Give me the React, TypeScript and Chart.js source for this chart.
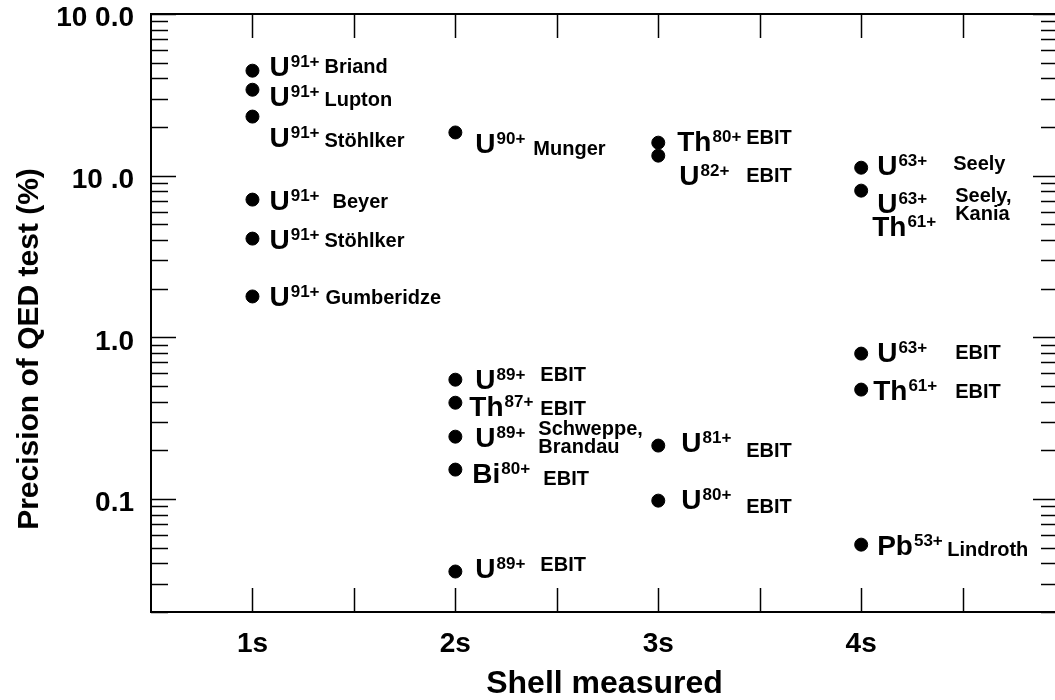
import React, { useEffect, useRef } from "react";
import { Chart, registerables } from "chart.js";

Chart.register(...registerables);

// ---------- data ----------
const shellTicks = [1, 2, 3, 4];
const shellLabels = ["1s", "2s", "3s", "4s"];
const yTickValues = [0.1, 1, 10, 100];
const yTickLabels = ["0.1", "1.0", "10 .0", "10 0.0"];

const pointShell = [1, 1, 1, 1, 1, 1, 2, 2, 2, 2, 2, 2, 3, 3, 3, 3, 4, 4, 4, 4, 4];
const pointPrecision = [
  44.6, 34.0, 23.2, 7.11, 4.08, 1.79,
  18.5, 0.547, 0.394, 0.243, 0.152, 0.0356,
  16.0, 13.3, 0.214, 0.0977,
  11.2, 8.08, 0.793, 0.475, 0.0522,
];
const pointIon = ["U", "U", "U", "U", "U", "U", "U", "U", "Th", "U", "Bi", "U", "Th", "U", "U", "U", "U", "U", "U", "Th", "Pb"];
const pointCharge = ["91+", "91+", "91+", "91+", "91+", "91+", "90+", "89+", "87+", "89+", "80+", "89+", "80+", "82+", "81+", "80+", "63+", "63+", "63+", "61+", "53+"];
const pointIon2 = ["", "", "", "", "", "", "", "", "", "", "", "", "", "", "", "", "", "Th", "", "", ""];
const pointCharge2 = ["", "", "", "", "", "", "", "", "", "", "", "", "", "", "", "", "", "61+", "", "", ""];
const pointSource = [
  "Briand", "Lupton", "Stöhlker", "Beyer", "Stöhlker", "Gumberidze",
  "Munger", "EBIT", "EBIT", "Schweppe,\nBrandau", "EBIT", "EBIT",
  "EBIT", "EBIT", "EBIT", "EBIT",
  "Seely", "Seely,\nKania", "EBIT", "EBIT", "Lindroth",
];

// ---------- label layout (offsets from the dot, px) : ionDx, ionDy(center), srcDx, srcDy(center) ----------
const labelLayout = [
  [17, -5, 72, -5], [17, 6, 72, 9], [17, 20, 72, 23], [17, 0, 80, 1], [17, 0, 72, 1], [17, 0, 73, 0],
  [20, 11, 78, 15], [20, -1, 85, -6], [14, 3, 85, 5], [20, 0, 83, -9], [17, 3, 88, 8], [20, -4, 85, -8],
  [19, -2, 88, -6], [21, 19, 88, 19], [23, -4, 88, 4], [23, -2, 88, 5],
  [16, -3, 92, -5], [16, 12, 94, 4], [16, -2, 94, -2], [12, 0, 94, 1], [16, 0, 86, 4],
];
const ion2Layout = [11, 35];

const FONT = '"Liberation Sans", Arial, Helvetica, sans-serif';
const ION_SIZE = 28;
const SUP_SIZE = 17;
const SRC_SIZE = 20;

const decorPlugin = {
  id: "decor",
  afterDatasetsDraw(chart: any) {
    const { ctx } = chart;
    const meta = chart.getDatasetMeta(0);
    ctx.save();
    ctx.fillStyle = "#000";
    ctx.textAlign = "left";
    ctx.textBaseline = "alphabetic";
    const drawIon = (el: string, ch: string, x: number, cy: number) => {
      const base = cy + ION_SIZE * 0.358;
      ctx.font = `bold ${ION_SIZE}px ${FONT}`;
      ctx.fillText(el, x, base);
      const w = ctx.measureText(el).width;
      ctx.font = `bold ${SUP_SIZE}px ${FONT}`;
      ctx.fillText(ch, x + w + 1, base - 9);
    };
    meta.data.forEach((pt: any, i: number) => {
      const [idx, idy, sdx, sdy] = labelLayout[i];
      drawIon(pointIon[i], pointCharge[i], pt.x + idx, pt.y + idy);
      if (pointIon2[i]) drawIon(pointIon2[i], pointCharge2[i], pt.x + ion2Layout[0], pt.y + ion2Layout[1]);
      ctx.font = `bold ${SRC_SIZE}px ${FONT}`;
      pointSource[i].split("\n").forEach((line, k) => {
        ctx.fillText(line, pt.x + sdx, pt.y + sdy + SRC_SIZE * 0.358 + k * 18);
      });
    });
    ctx.restore();
  },
  afterDraw(chart: any) {
    const { ctx, chartArea: a, scales } = chart;
    const xs = scales.x;
    const ys = scales.y;
    ctx.save();
    ctx.strokeStyle = "#000";
    ctx.lineWidth = 2;
    ctx.strokeRect(a.left, a.top, a.right - a.left, a.bottom - a.top);
    ctx.lineWidth = 1.5;
    const line = (x1: number, y1: number, x2: number, y2: number) => {
      ctx.beginPath();
      ctx.moveTo(x1, y1);
      ctx.lineTo(x2, y2);
      ctx.stroke();
    };
    for (let e = -2; e <= 2; e++) {
      for (let m = 1; m <= 9; m++) {
        const v = m * Math.pow(10, e);
        if (v < ys.min * 0.999 || v > ys.max * 1.001) continue;
        const py = Math.round(ys.getPixelForValue(v)) + 0.5;
        const len = m === 1 ? 25 : 17;
        line(a.left, py, a.left + len, py);
        line(a.right, py, a.right - len, py);
      }
    }
    for (let s = 1; s <= 4.5; s += 0.5) {
      const px = Math.round(xs.getPixelForValue(s)) + 0.5;
      line(px, a.bottom, px, a.bottom - 24);
      line(px, a.top, px, a.top + 24);
    }
    // y-axis title
    ctx.fillStyle = "#000";
    ctx.font = `bold 30px ${FONT}`;
    ctx.textAlign = "center";
    ctx.textBaseline = "middle";
    ctx.translate(30, 349);
    ctx.rotate(-Math.PI / 2);
    ctx.fillText("Precision of QED test (%)", 0, 0);
    ctx.restore();
  },
};

export default function App() {
  const ref = useRef<HTMLCanvasElement | null>(null);
  useEffect(() => {
    if (!ref.current) return;
    const chart = new Chart(ref.current, {
      type: "scatter",
      data: {
        datasets: [
          {
            data: pointShell.map((s, i) => ({ x: s, y: pointPrecision[i] })),
            backgroundColor: "#000",
            borderColor: "#000",
            pointRadius: 6.5,
            pointHoverRadius: 6.5,
            showLine: false,
          },
        ],
      },
      options: {
        animation: false,
        responsive: false,
        devicePixelRatio: 1,
        layout: { autoPadding: false, padding: { top: 14, right: 0, left: 0, bottom: 0 } },
        plugins: { legend: { display: false }, tooltip: { enabled: false } },
        scales: {
          x: {
            type: "linear",
            min: 0.5,
            max: 4.97,
            grid: { display: false, drawTicks: false },
            border: { display: false },
            afterBuildTicks: (scale: any) => {
              scale.ticks = shellTicks.map((v) => ({ value: v }));
            },
            afterFit: (scale: any) => {
              scale.height = 88;
              scale.paddingLeft = 0;
              scale.paddingRight = 0;
              scale.paddingTop = 0;
              scale.paddingBottom = 0;
            },
            ticks: {
              autoSkip: false,
              maxRotation: 0,
              padding: 15,
              color: "#000",
              font: { family: FONT, size: 28, weight: "bold" },
              callback: (v: any) => {
                const k = shellTicks.indexOf(Number(v));
                return k >= 0 ? shellLabels[k] : "";
              },
            },
            title: {
              display: true,
              text: "Shell measured",
              color: "#000",
              font: { family: FONT, size: 32, weight: "bold", lineHeight: 1 },
              padding: { top: 0, bottom: 0 },
            },
          },
          y: {
            type: "logarithmic",
            min: 0.02,
            max: 100,
            grid: { display: false, drawTicks: false },
            border: { display: false },
            afterBuildTicks: (scale: any) => {
              scale.ticks = yTickValues.map((v) => ({ value: v }));
            },
            afterFit: (scale: any) => {
              scale.width = 151;
              scale.paddingLeft = 0;
              scale.paddingRight = 0;
              scale.paddingTop = 0;
              scale.paddingBottom = 0;
            },
            ticks: {
              autoSkip: false,
              padding: 17,
              labelOffset: 4.5,
              color: "#000",
              font: { family: FONT, size: 28, weight: "bold" },
              callback: (v: any) => {
                const k = yTickValues.findIndex((t) => Math.abs(t - Number(v)) < 1e-9 * Math.max(1, t));
                return k >= 0 ? yTickLabels[k] : "";
              },
            },
          },
        },
      },
      plugins: [decorPlugin],
    });
    return () => chart.destroy();
  }, []);
  return (
    <div style={{ position: "fixed", left: 0, top: 0, width: 1055, height: 700, overflow: "hidden", background: "#fff" }}>
      <canvas ref={ref} width={1058} height={700} style={{ display: "block" }} />
    </div>
  );
}
